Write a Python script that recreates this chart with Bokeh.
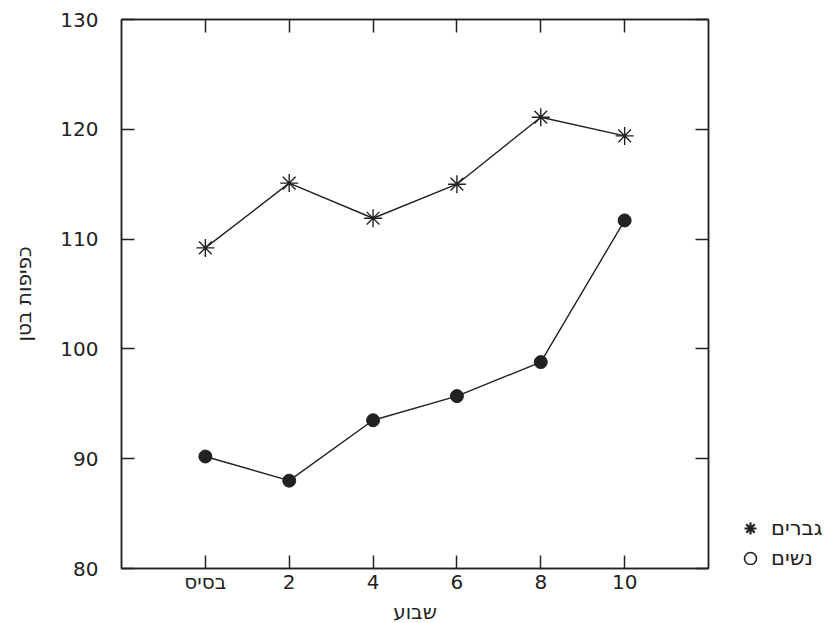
from bokeh.plotting import figure
from bokeh.layouts import row
from bokeh.models import (FactorRange, Range1d, CategoricalAxis, LinearAxis,
                          FixedTicker, Legend, LegendItem, ColumnDataSource,
                          CustomLabelingPolicy)
from bokeh.embed import file_html
from bokeh.resources import INLINE

weeks = ["בסיס", "2", "4", "6", "8", "10"]
men = [109.2, 115.1, 111.9, 115.0, 121.1, 119.4]
women = [90.2, 88.0, 93.5, 95.7, 98.8, 111.7]
y_ticks = [80, 90, 100, 110, 120, 130]
men_label = "גברים"
women_label = "נשים"
x_title = "שבוע"
y_title = "כפיפות בטן"

FONT = "DejaVu Sans"
INK = "#222222"

p = figure(frame_width=587, frame_height=549,
           x_range=FactorRange(factors=weeks, range_padding=0.5, range_padding_units="absolute"),
           y_range=Range1d(80, 130),
           output_backend="svg", toolbar_location=None,
           min_border_left=121, min_border_right=0, min_border_top=19, min_border_bottom=55)

p.background_fill_color = "white"
p.border_fill_color = "white"
p.outline_line_color = INK
p.outline_line_width = 1.5
p.xgrid.visible = False
p.ygrid.visible = False

def style_axis(ax, labels=True):
    ax.axis_line_color = INK
    ax.axis_line_width = 1.5
    ax.major_tick_line_color = INK
    ax.major_tick_line_width = 1.5
    ax.major_tick_in = 13
    ax.major_tick_out = 0
    ax.minor_tick_line_color = None
    ax.major_label_text_font = FONT
    ax.major_label_text_color = INK
    ax.axis_label_text_font = FONT
    ax.axis_label_text_font_style = "normal"
    ax.axis_label_text_color = INK
    if labels:
        ax.major_label_text_font_size = "20px"
        ax.axis_label_text_font_size = "20px"
    else:
        ax.major_label_policy = CustomLabelingPolicy(code="return []")
        ax.major_label_text_font_size = "1px"
        ax.major_label_standoff = 0

p.yaxis.ticker = FixedTicker(ticks=y_ticks)
p.yaxis.minor_tick_line_color = None
style_axis(p.xaxis[0])
style_axis(p.yaxis[0])
p.xaxis.axis_label = x_title
p.yaxis.axis_label = y_title
p.xaxis.major_label_standoff = 1
p.xaxis.axis_label_standoff = 3
p.yaxis.major_label_standoff = 23
p.yaxis.axis_label_standoff = 21

right_ax = LinearAxis(ticker=FixedTicker(ticks=y_ticks))
style_axis(right_ax, labels=False)
p.add_layout(right_ax, "right")
top_ax = CategoricalAxis()
style_axis(top_ax, labels=False)
p.add_layout(top_ax, "above")

src = ColumnDataSource(dict(week=weeks, men=men, women=women))

p.line("week", "men", source=src, line_color=INK, line_width=1.4)
p.scatter("week", "men", source=src, marker="asterisk", size=18, line_color=INK, line_width=1.4)
p.line("week", "women", source=src, line_color=INK, line_width=1.4)
p.scatter("week", "women", source=src, marker="circle", size=13, fill_color=INK, line_color=INK)

# small companion figure that only holds the key (outside the plot box)
k = figure(width=120, height=623,
           x_range=FactorRange(factors=weeks), y_range=Range1d(0, 1),
           output_backend="svg", toolbar_location=None,
           x_axis_location=None, y_axis_location=None,
           min_border_left=0, min_border_right=0, min_border_top=0, min_border_bottom=0)
k.outline_line_color = None
k.xgrid.visible = False
k.ygrid.visible = False
k.background_fill_color = "white"
k.border_fill_color = "white"
k_men = k.scatter("week", "men", source=src, marker="asterisk", line_color=INK, line_width=2.2)
k_women = k.scatter("week", "women", source=src, marker="circle", fill_color=None,
                    line_color=INK, line_width=1.6)

legend = Legend(items=[LegendItem(label=men_label, renderers=[k_men]),
                       LegendItem(label=women_label, renderers=[k_women])],
                location=(21, -8), orientation="vertical",
                glyph_width=32, glyph_height=30, spacing=0, label_standoff=5,
                padding=0, margin=0, border_line_color=None, background_fill_alpha=0,
                label_text_font=FONT, label_text_font_size="21px", label_text_color=INK)
k.add_layout(legend, "center")

layout = row(p, k)
open("out.html", "w").write(file_html(layout, INLINE))
